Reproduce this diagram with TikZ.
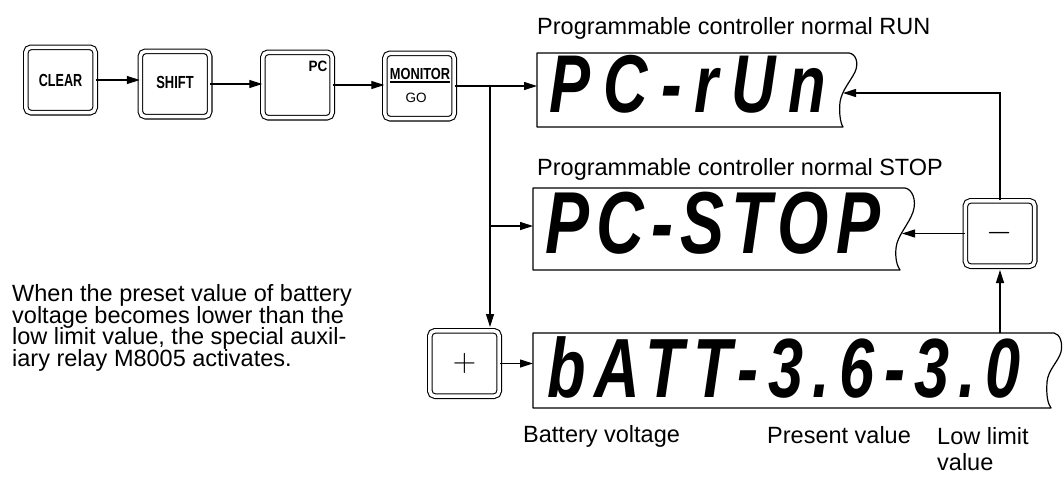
\documentclass[tikz,border=0pt]{standalone}
\usepackage{fontspec}
\setmainfont{Liberation Sans}
\newfontfamily\segfont{Liberation Sans}
\usetikzlibrary{arrows.meta}
\newcommand\mytightlines{\setlength{\lineskiplimit}{-30pt}\setlength{\lineskip}{0pt}}
\begin{document}
\begin{tikzpicture}[x=1pt,y=-1pt,
  key/.style={draw, line width=1.1pt, double=white, double distance=3.5pt,
    rounded corners=5pt, minimum width=69.3pt, minimum height=65.3pt, inner sep=0pt},
  keytxt/.style={inner sep=0pt, font=\fontsize{17.5}{18}\selectfont\bfseries},
  arr/.style={-{Triangle[length=13pt,width=8pt]}, line width=1.1pt},
  lbl/.style={inner sep=0pt, anchor=base west, font=\fontsize{23.5}{21.5}\selectfont\mytightlines},
  seg/.style={inner sep=0pt, anchor=base},
  dispbox/.style={line width=1.2pt, line join=round},
]
\useasboundingbox (0,0) rectangle (1064,477);

% keys
\node[key] (clear) at (60.5,80) {\scalebox{0.72}[1]{\fontsize{17.5}{18}\selectfont\bfseries CLEAR}};
\node[key] (shift) at (175,84) {\raisebox{3pt}{\scalebox{0.74}[1]{\fontsize{17.5}{18}\selectfont\bfseries SHIFT}}};
\node[key] (pc) at (297.5,85) {};
\node[keytxt, anchor=center] (pclbl) at (318,66) {\scalebox{0.9}[1]{\fontsize{15}{16}\selectfont\bfseries PC}};
\node[key] (mon) at (419.5,86) {};
\node[inner sep=0pt] (monlbl) at (420,74) {\scalebox{0.8}[1]{\fontsize{16}{17}\selectfont\bfseries MONITOR}};
\draw[line width=1.1pt] ([xshift=-30pt,yshift=4pt]mon.center) -- ([xshift=30pt,yshift=4pt]mon.center);
\node[inner sep=0pt] (golbl) at (416,98) {\fontsize{13.5}{14}\selectfont GO};
\node[key] (minus) at (1000,233.5) {\scalebox{1.35}{\fontsize{24}{24}\selectfont$-$}};
\node[key] (plus) at (464.5,363.5) {\scalebox{1.3}{\fontsize{24}{24}\selectfont$+$}};

% displays
\draw[dispbox] (537,53) -- (849,53) .. controls (856,54) and (859,63) .. (855,72)
  .. controls (850,82) and (842,90) .. (840,102) .. controls (839,112) and (840,122) .. (843,127)
  -- (537,127) -- cycle;
\coordinate (d1w) at (537,86);
\coordinate (d1r) at (843,93);
\node[seg] (d1) at (688,112) {\scalebox{0.75}[1]{\segfont\fontsize{82}{82}\selectfont\bfseries\itshape\addfontfeature{LetterSpace=21}PC-rUn}};

\draw[dispbox] (533,188) -- (905,188) .. controls (912,189) and (917,200) .. (913,212)
  .. controls (909,224) and (897,236) .. (896,248) .. controls (895,258) and (897,266) .. (900,270)
  -- (533,270) -- cycle;
\coordinate (d2w) at (533,226);
\coordinate (d2r) at (902,233.5);
\node[seg] (d2) at (713,253) {\scalebox{0.75}[1]{\segfont\fontsize{88}{88}\selectfont\bfseries\itshape\addfontfeature{LetterSpace=10.6}PC-STOP}};

\draw[dispbox] (533,333) -- (1054,333) .. controls (1060,334) and (1063,343) .. (1061,352)
  .. controls (1058,362) and (1048,370) .. (1047,382) .. controls (1046,396) and (1048,404) .. (1051,408)
  -- (533,408) -- cycle;
\coordinate (d3w) at (533,363.5);
\coordinate (d3t) at (1000,333);
\node[seg] (d3) at (784,397) {\scalebox{0.75}[1]{\segfont\fontsize{84}{84}\selectfont\bfseries\itshape\addfontfeature{LetterSpace=15}bATT-3.6-3.0}};

% connectors
\coordinate (J) at (490,86);
\draw[arr] (clear.east) -- (clear.east -| shift.west);
\draw[arr] (shift.east) -- (shift.east -| pc.west);
\draw[arr] (pc.east) -- (pc.east -| mon.west);
\draw[arr] (mon.east) -- (d1w);
\draw[arr, shorten >=3.3pt] (J) -- (J |- plus.north);
\draw[arr] (J |- d2w) -- (d2w);
\draw[arr] (plus.east) -- (d3w);
\draw[arr] (minus.west) -- (d2r);
\draw[arr] (minus.north) |- (d1r);
\draw[arr, shorten >=3.3pt] (d3t) -- (minus.south);

% labels
\node[lbl] (runlbl) at (537,34) {Programmable controller normal RUN};
\node[lbl] (stoplbl) at (537,175) {Programmable controller normal STOP};
\node[lbl, align=left] (para) at (12,366) {When the preset value of battery\\voltage becomes lower than the\\low limit value, the special auxil-\\iary relay M8005 activates.};
\node[lbl] (batlbl) at (523,442) {Battery voltage};
\node[lbl] (prelbl) at (767,443) {Present value};
\node[lbl, align=left, font=\fontsize{23.5}{25.5}\selectfont\mytightlines] (lowlbl) at (937,470) {Low limit\\value};
\end{tikzpicture}
\end{document}
